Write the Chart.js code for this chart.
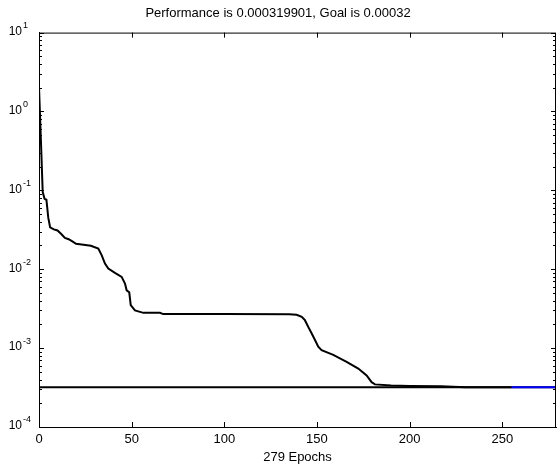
<!DOCTYPE html>
<html>
<head>
<meta charset="utf-8">
<script src="https://cdn.jsdelivr.net/npm/chart.js@4/dist/chart.umd.min.js"></script>
<style>
  html, body { margin: 0; padding: 0; background: #fff; }
  #wrap { width: 557px; height: 466px; }
</style>
</head>
<body>
<div id="wrap"><canvas id="perfChart" width="557" height="466"></canvas></div>
<script>
// --- data ---
const TITLE = 'Performance is 0.000319901, Goal is 0.00032';
const X_TITLE = '279 Epochs';
const X_MAX = 279;
const X_TICKS = [0, 50, 100, 150, 200, 250];
const Y_EXPONENTS = [-4, -3, -2, -1, 0, 1];
const GOAL = 0.00032;

const perfEpochs = [0, 1, 2, 3, 4, 5, 6, 8, 10, 12, 14, 16, 18, 20, 24, 28, 32, 33.8, 35.6, 37.4, 41,
    44.6, 46.4, 47.3, 48.7, 49.5, 51.8, 56.3, 65.3, 67, 100, 135, 139, 141.8, 143.5, 145.3, 147.1, 149,
    150.7, 152.5, 158.8, 166, 172.3, 176.8, 179.5, 181.3, 190, 200, 217, 230, 255];
const perfValues = [2.05, 0.45, 0.095, 0.078, 0.076, 0.045, 0.034, 0.032, 0.031, 0.028, 0.025, 0.024,
    0.0225, 0.021, 0.0205, 0.0198, 0.0183, 0.0151, 0.0118, 0.0102, 0.0090, 0.0080, 0.0066, 0.0054,
    0.0051, 0.0035, 0.0030, 0.0028, 0.0028, 0.0027, 0.0027, 0.00268, 0.00265, 0.00250, 0.00226, 0.00186,
    0.00154, 0.00126, 0.00104, 0.00094, 0.00082, 0.00067, 0.00055, 0.00045, 0.00037, 0.000347,
    0.000335, 0.00033, 0.000328, 0.00032, 0.00032];

const goalEpochs = [0, X_MAX];
const goalValues = [GOAL, GOAL];

const bestEpochs = [255, X_MAX];
const bestValues = [0.00032, 0.00032];

const FONT = '"Liberation Sans", Arial, Helvetica, sans-serif';

function toPoints(xs, ys) {
    return xs.map((x, i) => ({ x: x, y: ys[i] }));
}

// --- box, inward ticks and 10^n labels ---
const matlabAxes = {
    id: 'matlabAxes',
    afterDraw(chart) {
        const ctx = chart.ctx;
        const area = chart.chartArea;
        const xs = chart.scales.x;
        const ys = chart.scales.y;
        ctx.save();
        ctx.strokeStyle = '#000';
        ctx.lineWidth = 1;
        ctx.strokeRect(area.left + 0.5, area.top + 0.5, area.right - area.left - 1, area.bottom - area.top);

        ctx.beginPath();
        X_TICKS.forEach(v => {
            const px = Math.round(xs.getPixelForValue(v)) + 0.5;
            ctx.moveTo(px, area.top); ctx.lineTo(px, area.top + 5);
            ctx.moveTo(px, area.bottom); ctx.lineTo(px, area.bottom - 5);
        });
        Y_EXPONENTS.forEach(e => {
            const mults = e < 1 ? [1, 2, 3, 4, 5, 6, 7, 8, 9] : [1];
            mults.forEach(m => {
                const py = Math.round(ys.getPixelForValue(m * Math.pow(10, e))) + 0.5;
                const len = m === 1 ? 5 : 3;
                ctx.moveTo(area.left, py); ctx.lineTo(area.left + len, py);
                ctx.moveTo(area.right, py); ctx.lineTo(area.right - len, py);
            });
        });
        ctx.stroke();

        ctx.fillStyle = '#000';
        Y_EXPONENTS.forEach(e => {
            const py = ys.getPixelForValue(Math.pow(10, e));
            ctx.font = '12px ' + FONT;
            ctx.textAlign = 'right';
            ctx.textBaseline = 'middle';
            ctx.fillText('10', 22, py - 1);
            ctx.font = '9px ' + FONT;
            ctx.textAlign = 'left';
            ctx.fillText(String(e), 23, py - 7);
        });
        ctx.restore();
    }
};

const chart = new Chart(document.getElementById('perfChart'), {
    type: 'line',
    data: {
        datasets: [
            { label: 'Best', data: toPoints(bestEpochs, bestValues), borderColor: '#0000ff', borderWidth: 2, pointRadius: 0, order: 0 },
            { label: 'Performance', data: toPoints(perfEpochs, perfValues), borderColor: '#000', borderWidth: 2, pointRadius: 0, order: 1 },
            { label: 'Goal', data: toPoints(goalEpochs, goalValues), borderColor: '#000', borderWidth: 2, pointRadius: 0, order: 2 }
        ]
    },
    options: {
        responsive: false,
        animation: false,
        devicePixelRatio: 1,
        layout: { padding: { left: 0, right: 1, top: 0, bottom: 0 } },
        plugins: {
            legend: { display: false },
            tooltip: { enabled: false },
            title: {
                display: true,
                text: TITLE,
                color: '#000',
                font: { family: FONT, size: 13, weight: 'normal' },
                padding: { top: 6, bottom: 11 }
            }
        },
        scales: {
            x: {
                type: 'linear',
                min: 0,
                max: X_MAX,
                grid: { display: false, drawTicks: false },
                border: { display: true, color: '#000', width: 1 },
                ticks: {
                    stepSize: 50,
                    includeBounds: false,
                    color: '#000',
                    maxRotation: 0,
                    padding: 5,
                    font: { family: FONT, size: 13 }
                },
                title: {
                    display: true,
                    text: X_TITLE,
                    color: '#000',
                    font: { family: FONT, size: 13 },
                    padding: { top: 0, bottom: 1 }
                },
                afterFit: s => { s.height = 39; }
            },
            y: {
                type: 'logarithmic',
                min: 1e-4,
                max: 10,
                grid: { display: false, drawTicks: false },
                border: { display: true, color: '#000', width: 1 },
                ticks: { display: false },
                afterFit: s => { s.width = 39; }
            }
        }
    },
    plugins: [matlabAxes]
});
</script>
</body>
</html>
